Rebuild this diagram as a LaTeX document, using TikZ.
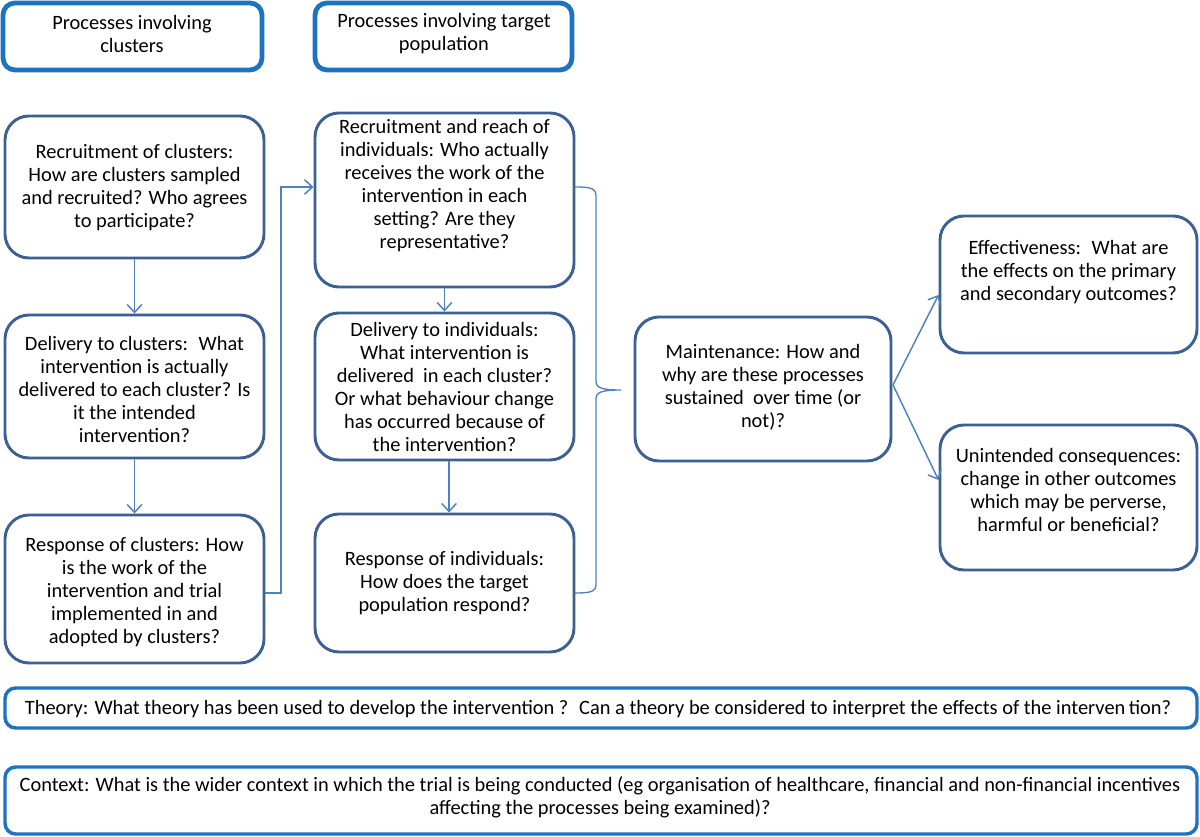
\documentclass[tikz,border=0pt]{standalone}
\usepackage{fontspec}
\setmainfont{Carlito}
\usetikzlibrary{arrows.meta,fit}
\definecolor{boxblue}{RGB}{60,96,146}
\definecolor{headblue}{RGB}{30,115,192}
\definecolor{arrblue}{RGB}{79,129,189}
\begin{document}
\begin{tikzpicture}[x=0.75pt,y=-0.75pt,
  box/.style={draw=boxblue,line width=2.2pt,rounded corners=18pt,inner sep=0pt},
  headbox/.style={draw=headblue,line width=3.6pt,rounded corners=9pt,inner sep=0pt},
  widebox/.style={draw=headblue,line width=2.6pt,rounded corners=8pt,inner sep=0pt},
  txt/.style={align=center,inner sep=0pt,font=\fontsize{15.3}{17.25}\selectfont},
  arr/.style={draw=arrblue,line width=1.1pt,-{Straight Barb[length=6pt,width=11pt,line width=1.1pt]}},
  brc/.style={draw=arrblue,line width=1pt}]
\useasboundingbox (0,0) rectangle (1200,837);
% headers
\node[headbox,fit={(3,3) (262,70)}] (h1) {};
\node[txt] at (132,34) {Processes involving\\clusters};
\node[headbox,fit={(315,3) (572,70)}] (h2) {};
\node[txt] at (444,34) {Processes involving target\\population};
% left column
\node[box,fit={(5,116) (264,258)}] (rc) {};
\node[txt] at (134.5,187.5) {Recruitment of clusters:\\How are clusters sampled\\and recruited? Who agrees\\to participate?};
\node[box,fit={(5,315) (264,458)}] (dc) {};
\node[txt] at (134.5,389) {Delivery to clusters:~ What\\intervention is actually\\delivered to each cluster? Is\\it the intended\\intervention?};
\node[box,fit={(5,515) (264,663)}] (sc) {};
\node[txt] at (134.5,592) {Response of clusters: How\\is the work of the\\intervention and trial\\implemented in and\\adopted by clusters?};
% middle column
\node[box,fit={(315,113) (574,287)}] (ri) {};
\node[txt] at (444.5,186) {Recruitment and reach of\\individuals: Who actually\\receives the work of the\\intervention in each\\setting? Are they\\representative?};
\node[box,fit={(315,313) (574,460)}] (di) {};
\node[txt] at (444.5,386.5) {Delivery to individuals:\\What intervention is\\delivered~ in each cluster?\\Or what behaviour change\\has occurred because of\\the intervention?};
\node[box,fit={(315,514) (574,652)}] (si) {};
\node[txt] at (444.5,583) {Response of individuals:\\How does the target\\population respond?};
% maintenance
\node[box,fit={(635,317) (891,461)}] (mt) {};
\node[txt] at (763,387) {Maintenance: How and\\why are these processes\\sustained~ over time (or\\not)?};
% outcomes
\node[box,fit={(940,216) (1197,353)}] (ef) {};
\node[txt] at (1068.5,272) {Effectiveness:~ What are\\the effects on the primary\\and secondary outcomes?};
\node[box,fit={(940,425) (1197,570)}] (un) {};
\node[txt] at (1068.5,490) {Unintended consequences:\\change in other outcomes\\which may be perverse,\\harmful or beneficial?};
% wide boxes
\node[widebox,fit={(5,688) (1197,728)}] (th) {};
\node[txt] at (598,709) {Theory: What theory has been used to develop the intervention ?~ Can a theory be considered to interpret the effects of the interven\,tion?};
\node[widebox,fit={(5,767) (1197,834)}] (cx) {};
\node[txt] at (600,797) {Context: What is the wider context in which the trial is being conducted (eg organisation of healthcare, financial and non-financial incentives\\affecting the processes being examined)?};
% arrows
\draw[arr] (rc.south) -- (dc.north);
\draw[arr] (dc.south) -- (sc.north);
\draw[arr] (ri.south) -- (di.north);
\draw[arr] ([xshift=3.4pt]di.south) -- ([xshift=3.4pt]si.north);
\coordinate (e1) at (281,593);
\coordinate (e2) at (281,187);
\draw[arr] (e1 -| sc.east) -- (e1) -- (e2) -- (e2 -| ri.west);
% brace
\coordinate (b1) at (575,187);
\coordinate (b2) at (575,593);
\coordinate (bt) at (621,390);
\draw[brc] (b1) .. controls (590,187) and (596,188) .. (596,196) -- (596,381)
  .. controls (596,388) and (602,390) .. (bt)
  .. controls (602,390) and (596,392) .. (596,399) -- (596,584)
  .. controls (596,592) and (590,593) .. (b2);
% outcome arrows
\coordinate (m0) at (893,385);
\draw[arr] (m0) -- (ef.west |- 0,295);
\draw[arr] (m0) -- (un.west |- 0,480);
\end{tikzpicture}
\end{document}
